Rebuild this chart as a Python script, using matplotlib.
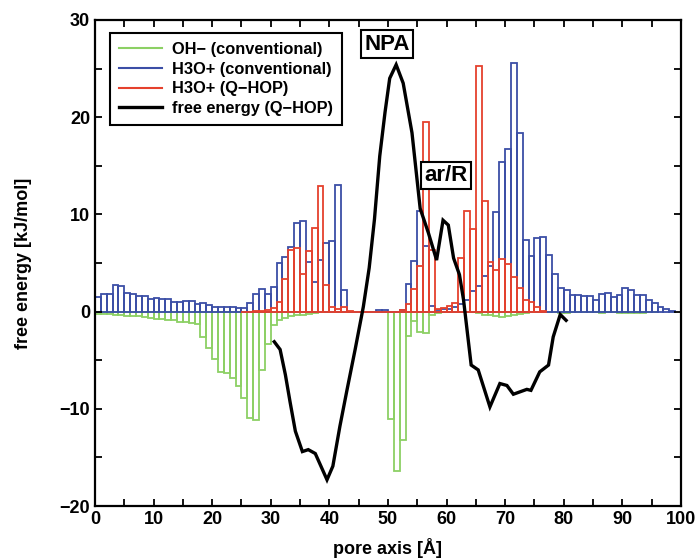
import matplotlib
matplotlib.use('Agg')
import matplotlib.pyplot as plt
import numpy as np
from matplotlib.lines import Line2D

plt.rcParams['font.family'] = ['Liberation Sans', 'DejaVu Sans']
plt.rcParams['font.weight'] = 'bold'

# histogram heights, one value per 1 A bin starting at the given offset
oh_start = 0
oh_conv = [-0.25, -0.25, -0.25, -0.3, -0.35, -0.45, -0.5, -0.5, -0.6, -0.7,
           -0.8, -0.8, -0.85, -0.9, -1.1, -1.1, -1.2, -1.3, -2.6, -3.7,
           -4.9, -6.2, -6.3, -6.8, -7.7, -8.9, -10.9, -11.2, -6.0, -3.3,
           -1.4, -0.9, -0.7, -0.5, -0.4, -0.3, -0.25, -0.1, 0, 0,
           0, 0, 0, 0, 0, 0, 0, 0, 0, 0,
           -11.0, -16.4, -13.2, -2.5, -1.0, -2.1, -2.2, -0.4, -0.1, 0,
           0, 0, 0, 0, 0, -0.1, -0.3, -0.4, -0.5, -0.6,
           -0.5, -0.4, -0.2, -0.1, 0, 0, 0, 0, 0, -0.1,
           -0.1, 0, 0, 0, 0, 0, -0.1, 0, 0, -0.1,
           -0.1, -0.1, -0.1, -0.1, 0, 0]

h3o_start = 0
h3o_conv = [1.5, 1.8, 1.8, 2.7, 2.6, 1.9, 1.8, 1.6, 1.6, 1.3,
            1.45, 1.3, 1.3, 1.0, 1.0, 1.1, 1.1, 0.8, 0.9, 0.7,
            0.5, 0.5, 0.5, 0.5, 0.4, 0.4, 0.9, 1.8, 2.3, 1.8,
            2.5, 5.0, 5.6, 6.6, 9.1, 9.3, 5.1, 3.0, 5.3, 7.1,
            7.3, 13.0, 2.2, 0, 0, 0, 0, 0, 0.2, 0.2,
            0, 0, 0.2, 2.8, 5.2, 10.3, 6.8, 0.6, 0.2, 0.3,
            0.3, 0.5, 0.8, 1.2, 2.1, 2.6, 3.7, 4.7, 10.2, 15.4,
            16.7, 25.6, 18.4, 7.4, 5.7, 7.6, 7.7, 5.8, 3.9, 2.4,
            2.2, 1.7, 1.7, 1.6, 1.6, 1.2, 1.8, 1.9, 1.5, 1.7,
            2.4, 2.2, 1.7, 1.7, 1.2, 0.9, 0.5, 0.25, 0.05]

qhop_start = 25
h3o_qhop = [0, 0, 0.05, 0.1, 0.2, 0.4, 1.0, 3.4, 6.3, 6.5,
            3.9, 6.2, 8.6, 12.9, 2.7, 0.5, 0.3, 0.5, 0.05, 0,
            0, 0, 0, 0, 0, 0, 0, 0.2, 0.8, 2.3,
            4.7, 19.5, 6.3, 0.3, 0.4, 0.6, 0.9, 5.5, 10.3, 8.5,
            25.3, 11.4, 5.1, 4.3, 5.4, 4.9, 3.6, 2.4, 1.2, 1.0,
            0.5, 0.1]

# free energy profile (Q-HOP)
fe_x = [30.6, 31.6, 32.5, 33.3, 34.2, 35.4, 36.4, 37.6, 39.6, 40.6,
        41.8, 43.0, 44.4, 45.8, 46.8, 47.7, 48.6, 49.5, 50.3, 51.4,
        52.6, 54.1, 55.5, 56.9, 58.3, 59.4, 60.3, 61.2, 62.2, 62.9,
        64.2, 65.4, 67.4, 69.1, 70.3, 71.4, 73.7, 74.4, 75.9, 77.4,
        78.2, 79.4, 80.4]
fe_y = [-3.1, -3.9, -6.5, -9.3, -12.3, -14.4, -14.2, -14.6, -17.3, -15.9,
        -11.8, -8.1, -3.9, 0.5, 4.5, 9.5, 16.0, 20.5, 24.0, 25.4,
        23.5, 18.4, 10.6, 8.1, 5.3, 9.4, 8.9, 5.5, 3.8, 1.2,
        -5.5, -6.0, -9.8, -7.4, -7.6, -8.5, -8.0, -8.1, -6.2, -5.5,
        -2.6, -0.3, -0.9]

green = '#8cd064'
blue = '#3b4ea6'
red = '#e5412d'

fig = plt.figure(figsize=(6.98, 5.6), dpi=100)
ax = fig.add_axes([0.136, 0.0964, 0.8396, 0.8679])

ax.bar(oh_start + np.arange(len(oh_conv)), oh_conv, width=1, align='edge',
       fill=False, edgecolor=green, linewidth=1.3)
ax.bar(h3o_start + np.arange(len(h3o_conv)), h3o_conv, width=1, align='edge',
       fill=False, edgecolor=blue, linewidth=1.3)
ax.bar(qhop_start + np.arange(len(h3o_qhop)), h3o_qhop, width=1, align='edge',
       fill=False, edgecolor=red, linewidth=1.3)
ax.plot(fe_x, fe_y, color='black', linewidth=2.4, solid_joinstyle='miter')

ax.set_xlim(0, 100)
ax.set_ylim(-20, 30)
ax.set_xticks(np.arange(0, 101, 10))
ax.set_xticks(np.arange(0, 101, 5), minor=True)
ax.set_yticks(np.arange(-20, 31, 10))
ax.set_yticks(np.arange(-20, 31, 5), minor=True)
ax.tick_params(which='both', direction='in', top=True, right=True,
               length=5, width=1.3, labelsize=13)
for s in ax.spines.values():
    s.set_linewidth(1.6)

ax.set_xlabel('pore axis [Å]', fontsize=13, fontweight='bold', labelpad=7)
ax.set_ylabel('free energy [kJ/mol]', fontsize=13, fontweight='bold', labelpad=20)

box = dict(boxstyle='square,pad=0.15', facecolor='white', edgecolor='black', linewidth=1.5)
ax.text(49.8, 27.5, 'NPA', fontsize=16, fontweight='bold', ha='center', va='center',
        bbox=box, zorder=10)
ax.text(59.9, 14.0, 'ar/R', fontsize=16, fontweight='bold', ha='center', va='center',
        bbox=box, zorder=10)

handles = [Line2D([], [], color=green, linewidth=1.5),
           Line2D([], [], color=blue, linewidth=1.5),
           Line2D([], [], color=red, linewidth=1.5),
           Line2D([], [], color='black', linewidth=2.4)]
labels = ['OH\u2212 (conventional)', 'H3O+ (conventional)',
          'H3O+ (Q\u2212HOP)', 'free energy (Q\u2212HOP)']
leg = ax.legend(handles, labels, loc='upper left', bbox_to_anchor=(0.026, 0.973),
                borderaxespad=0, fancybox=False, framealpha=1, edgecolor='black',
                fontsize=11.8, handlelength=2.6, labelspacing=0.28, borderpad=0.55,
                handletextpad=0.6)
leg.get_frame().set_linewidth(1.5)
leg.set_zorder(11)

fig.savefig('out.png', dpi=100)
